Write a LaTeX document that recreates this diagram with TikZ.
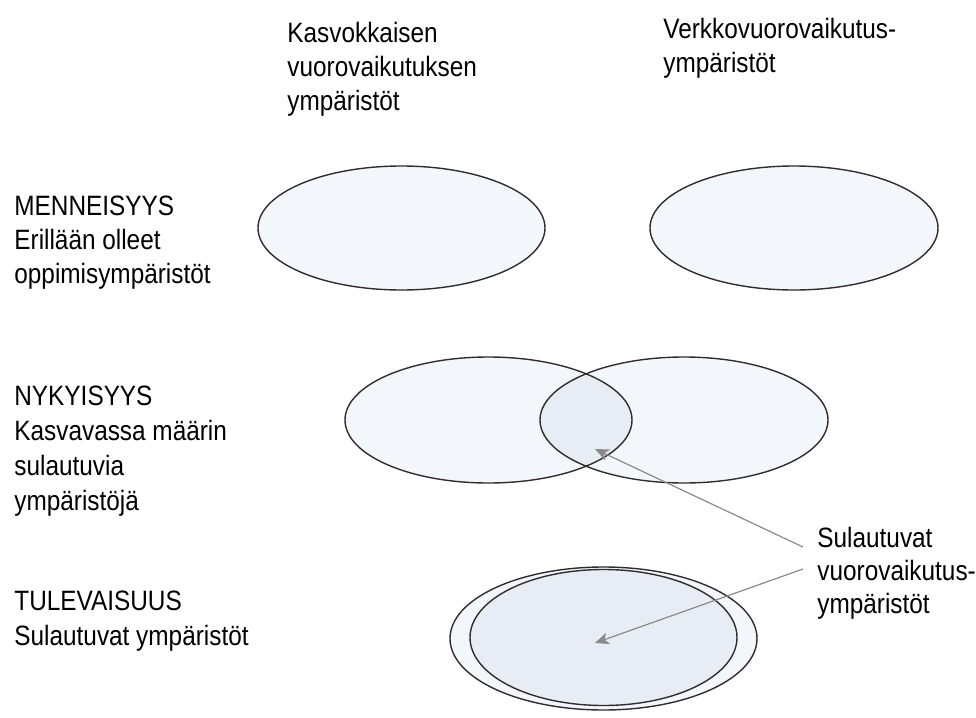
\documentclass[tikz,border=0pt]{standalone}
\usepackage{fontspec}
\setmainfont{Liberation Sans}[FakeStretch=0.87]
\usetikzlibrary{arrows.meta}
\definecolor{pale}{HTML}{F3F6FB}
\definecolor{merge}{HTML}{E8ECF4}
\definecolor{rim}{HTML}{2E2E2E}
\definecolor{arrowgray}{HTML}{8A8A8A}
\begin{document}
\begin{tikzpicture}[x=0.5pt,y=-0.5pt,
  txt/.style={anchor=base west, align=left, inner sep=0pt,
    font=\fontsize{14}{17}\selectfont},
  rimline/.style={draw=rim, line width=0.7pt},
  pointer/.style={draw=arrowgray, line width=0.6pt,
    -{Stealth[length=7pt,width=6pt,inset=2pt]}}]
\useasboundingbox (0,0) rectangle (976,718);

% column headings (anchored on the baseline of their last line)
\node[txt] (face) at (287,110) {Kasvokkaisen\\vuorovaikutuksen\\ympäristöt};
\node[txt] (online) at (663,72) {Verkkovuorovaikutus-\\ympäristöt};

% row headings
\node[txt] (past) at (14,283) {MENNEISYYS\\Erillään olleet\\oppimisympäristöt};
\node[txt, font=\fontsize{14}{17.5}\selectfont] (now) at (14,510)
  {NYKYISYYS\\Kasvavassa määrin\\sulautuvia\\ympäristöjä};
\node[txt, font=\fontsize{14}{17.5}\selectfont] (future) at (14,645)
  {TULEVAISUUS\\Sulautuvat ympäristöt};

% past: two separate environments
\path[rimline, fill=pale] (401.5,228) ellipse [x radius=143.5, y radius=62];
\path[rimline, fill=pale] (794,228) ellipse [x radius=144, y radius=62];

% present: overlapping environments
\fill[pale] (488.5,420) ellipse [x radius=143.5, y radius=63];
\fill[pale] (684,420) ellipse [x radius=144, y radius=63];
\begin{scope}
  \clip (488.5,420) ellipse [x radius=143.5, y radius=63];
  \fill[merge] (684,420) ellipse [x radius=144, y radius=63];
\end{scope}
\draw[rimline] (488.5,420) ellipse [x radius=143.5, y radius=63];
\draw[rimline] (684,420) ellipse [x radius=144, y radius=63];

% future: blended environments
\path[rimline, fill=pale] (603.5,638.5) ellipse [x radius=153.5, y radius=71.5];
\path[rimline, fill=merge] (603.5,637.5) ellipse [x radius=133.5, y radius=68];

% blended-environment label and its pointers
\node[txt, font=\fontsize{14}{16.5}\selectfont] (blend) at (817,613)
  {Sulautuvat\\vuorovaikutus-\\ympäristöt};
\coordinate (fromA) at (803,547);
\coordinate (fromB) at (803,569);
\coordinate (overlap) at (595,449);
\coordinate (merged) at (595,643);
\draw[pointer] (fromA) -- (overlap);
\draw[pointer] (fromB) -- (merged);
\end{tikzpicture}
\end{document}
